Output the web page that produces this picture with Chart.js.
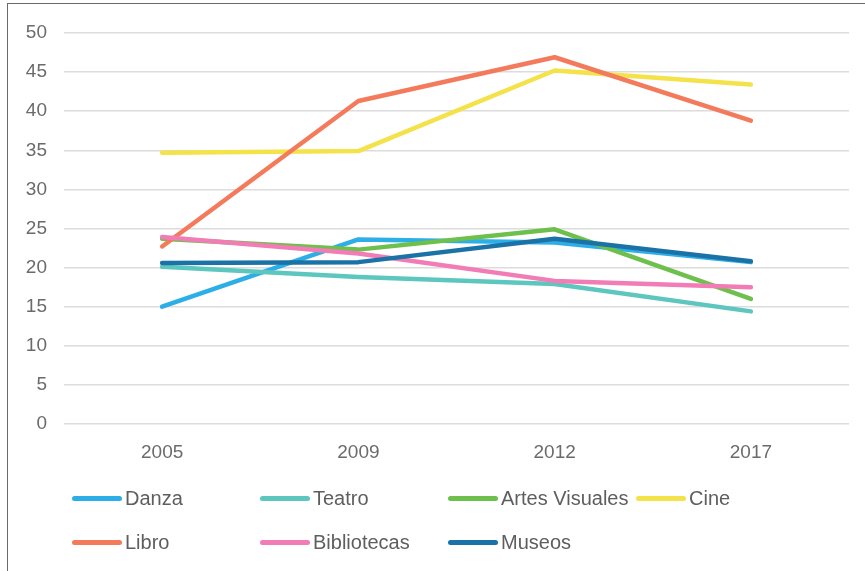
<!DOCTYPE html>
<html>
<head>
<meta charset="utf-8">
<script src="https://cdn.jsdelivr.net/npm/chart.js@4/dist/chart.umd.min.js"></script>
<style>
  html, body { margin: 0; padding: 0; background: #fff; }
  #wrap { position: relative; width: 865px; height: 571px; overflow: hidden; }
  #c { position: absolute; left: 0; top: 0; }
  .bt { position: absolute; left: 7px; top: 3px; width: 858px; height: 1px; background: #6a6a6a; }
  .bl { position: absolute; left: 7px; top: 3px; width: 1px; height: 568px; background: #6a6a6a; }
  .lg { position: absolute; display: flex; align-items: center; font-family: "Liberation Sans", Arial, sans-serif; font-size: 20px; color: #5e5e5e; white-space: nowrap; }
  .lg .sw { width: 50px; height: 5px; border-radius: 3px; margin-right: 3px; }
</style>
</head>
<body>
<div id="wrap">
  <canvas id="c" width="865" height="571"></canvas>
  <div class="bt"></div>
  <div class="bl"></div>
</div>
<script>
const categories = ["2005", "2009", "2012", "2017"];
const seriesNames = ["Danza", "Teatro", "Artes Visuales", "Cine", "Libro", "Bibliotecas", "Museos"];
const danza = [15.0, 23.6, 23.2, 20.7];
const teatro = [20.1, 18.8, 17.9, 14.4];
const artesVisuales = [23.7, 22.3, 24.9, 16.0];
const cine = [34.7, 34.9, 45.2, 43.4];
const libro = [22.7, 41.3, 46.9, 38.8];
const bibliotecas = [23.9, 21.8, 18.3, 17.5];
const museos = [20.6, 20.7, 23.7, 20.8];
const yTicks = [0, 5, 10, 15, 20, 25, 30, 35, 40, 45, 50];

const seriesValues = [danza, teatro, artesVisuales, cine, libro, bibliotecas, museos];
const colors = ["#2eaee6", "#5cc6bf", "#6dc04b", "#f4e24a", "#f47a5c", "#f27cb5", "#1a72a6"];

const datasets = seriesNames.map((name, i) => ({
  label: name,
  data: seriesValues[i],
  borderColor: colors[i],
  backgroundColor: colors[i],
  borderWidth: 4.5,
  pointRadius: 0,
  pointHoverRadius: 0,
  tension: 0,
  fill: false,
  borderCapStyle: "round",
  borderJoinStyle: "round",
  order: seriesNames.length - i
}));

const tickFont = { family: "'Liberation Sans', Arial, sans-serif", size: 19 };

new Chart(document.getElementById("c"), {
  type: "line",
  data: { labels: categories, datasets },
  options: {
    responsive: false,
    animation: false,
    layout: { padding: { left: 0, right: 16, top: 33, bottom: 97 } },
    plugins: { legend: { display: false }, tooltip: { enabled: false } },
    scales: {
      x: {
        offset: true,
        grid: { display: false, drawTicks: false },
        border: { display: false },
        ticks: { color: "#6b6b6b", font: tickFont, padding: 17, maxRotation: 0 },
        afterFit: (s) => { s.height = 50; }
      },
      y: {
        min: 0, max: 50,
        afterBuildTicks: (s) => { s.ticks = yTicks.map(v => ({ value: v })); },
        grid: { color: "#dcdcdc", lineWidth: 1.5, drawTicks: false },
        border: { display: false },
        ticks: { color: "#6b6b6b", font: tickFont, padding: 17 },
        afterFit: (s) => { s.width = 64; }
      }
    }
  }
});

// HTML legend built from the series names and colors
const wrap = document.getElementById("wrap");
seriesNames.forEach((name, i) => {
  const col = i % 4, row = Math.floor(i / 4);
  const d = document.createElement("div");
  d.className = "lg";
  d.style.left = (72 + col * 188) + "px";
  d.style.top = (row === 0 ? 486 : 530) + "px";
  d.style.height = "24px";
  const sw = document.createElement("span");
  sw.className = "sw";
  sw.style.background = colors[i];
  const t = document.createElement("span");
  t.textContent = name;
  d.appendChild(sw);
  d.appendChild(t);
  wrap.appendChild(d);
});
</script>
</body>
</html>
